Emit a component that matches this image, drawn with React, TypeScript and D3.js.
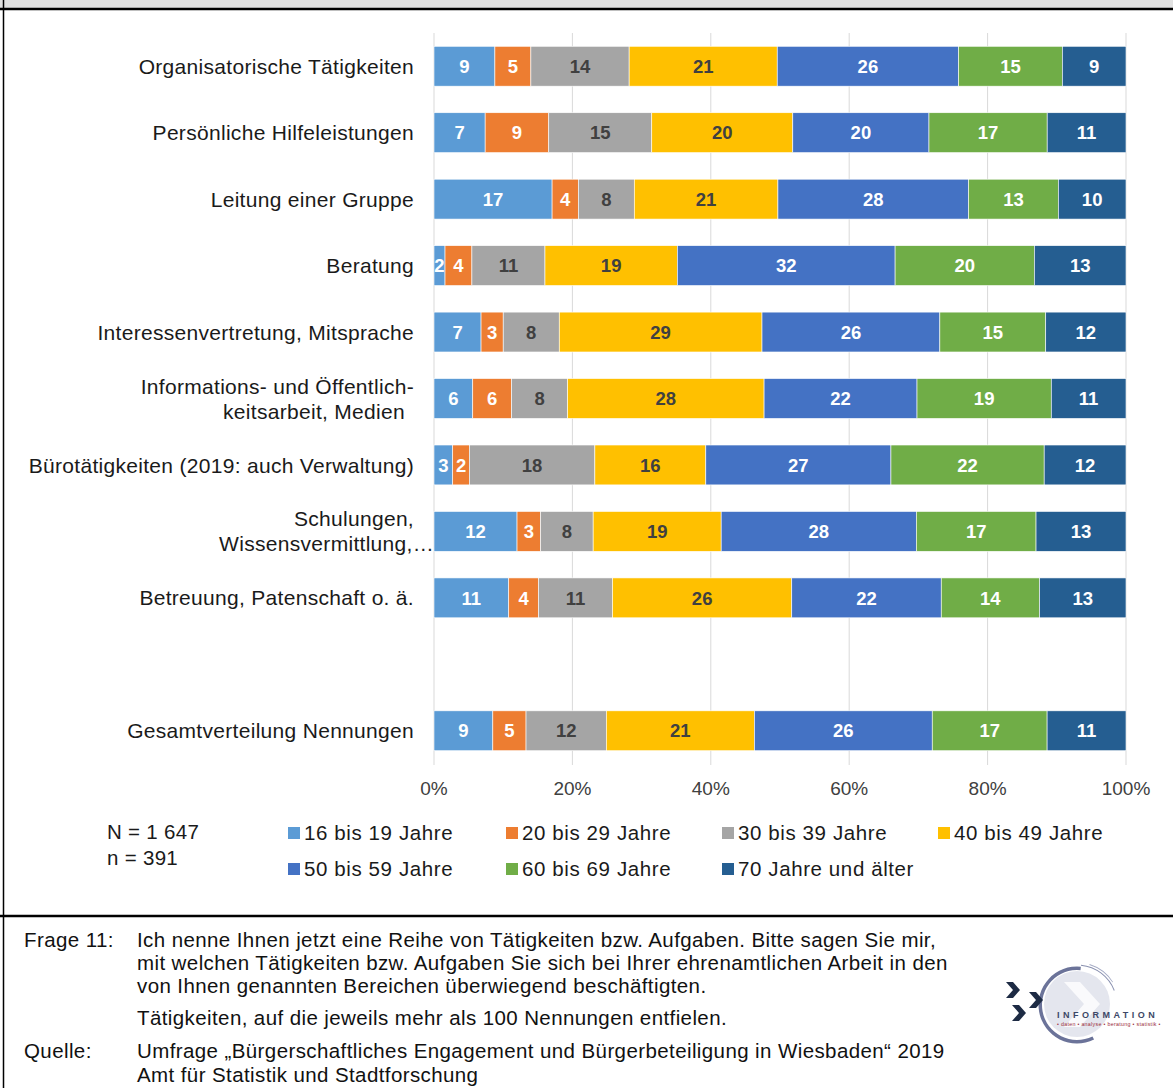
import React from "react";
import * as d3 from "d3";

const categories: string[][] = [
  ["Organisatorische Tätigkeiten"],
  ["Persönliche Hilfeleistungen"],
  ["Leitung einer Gruppe"],
  ["Beratung"],
  ["Interessenvertretung, Mitsprache"],
  ["Informations- und Öffentlich-", "keitsarbeit, Medien"],
  ["Bürotätigkeiten (2019: auch Verwaltung)"],
  ["Schulungen,", "Wissensvermittlung,…"],
  ["Betreuung, Patenschaft o. ä."],
  [""],
  ["Gesamtverteilung Nennungen"],
];

const seriesNames = [
  "16 bis 19 Jahre",
  "20 bis 29 Jahre",
  "30 bis 39 Jahre",
  "40 bis 49 Jahre",
  "50 bis 59 Jahre",
  "60 bis 69 Jahre",
  "70 Jahre und älter",
];

const seriesColors = ["#5B9BD5", "#ED7D31", "#A5A5A5", "#FFC000", "#4472C4", "#70AD47", "#255E91"];
const labelColors = ["#fff", "#fff", "#404040", "#404040", "#fff", "#fff", "#fff"];

// one row per category, values per age group (percent)
const values: (number[] | null)[] = [
  [8.8, 5.2, 14.2, 21.4, 26.2, 15.0, 9.2],
  [7.4, 9.2, 14.9, 20.4, 19.7, 17.1, 11.4],
  [17.1, 3.8, 8.1, 20.8, 27.6, 13.0, 9.8],
  [1.6, 3.9, 10.6, 19.2, 31.6, 20.2, 13.3],
  [6.8, 3.2, 8.1, 29.3, 25.7, 15.3, 11.6],
  [5.6, 5.6, 8.1, 28.4, 22.1, 19.4, 10.8],
  [2.7, 2.4, 18.1, 16.0, 26.7, 22.1, 11.8],
  [12.0, 3.4, 7.6, 18.5, 28.2, 17.3, 13.0],
  [10.8, 4.3, 10.7, 25.9, 21.6, 14.2, 12.5],
  null,
  [8.5, 4.8, 11.6, 21.4, 25.7, 16.6, 11.4],
];

const xTicks = [0, 0.2, 0.4, 0.6, 0.8, 1];

const sampleText = ["N = 1 647", "n = 391"];

const footerLines = [
  { label: "Frage 11:", text: "Ich nenne Ihnen jetzt eine Reihe von Tätigkeiten bzw. Aufgaben. Bitte sagen Sie mir," },
  { label: "", text: "mit welchen Tätigkeiten bzw. Aufgaben Sie sich bei Ihrer ehrenamtlichen Arbeit in den" },
  { label: "", text: "von Ihnen genannten Bereichen überwiegend beschäftigten." },
  { label: "", text: "Tätigkeiten, auf die jeweils mehr als 100 Nennungen entfielen." },
  { label: "Quelle:", text: "Umfrage „Bürgerschaftliches Engagement und Bürgerbeteiligung in Wiesbaden“ 2019" },
  { label: "", text: "Amt für Statistik und Stadtforschung" },
];
const footerY = [940, 963, 986, 1018, 1051, 1075];

const FONT = "'Liberation Sans', Arial, 'DejaVu Sans', sans-serif";

export default function App() {
  const W = 1173;
  const H = 1088;
  const x = d3.scaleLinear().domain([0, 1]).range([434, 1126]);
  const y = d3
    .scaleBand<number>()
    .domain(categories.map((_, i) => i))
    .range([33, 764])
    .paddingInner(0.4)
    .paddingOuter(0.2);

  const rows = values.map((v, i) => {
    if (!v) return { i, segs: [] as { x0: number; x1: number; v: number; k: number }[] };
    const total = d3.sum(v);
    let acc = 0;
    const segs = v.map((val, k) => {
      const s = { x0: acc / total, x1: (acc + val) / total, v: val, k };
      acc += val;
      return s;
    });
    return { i, segs };
  });

  const legendPos = [
    { x: 288, y: 833 },
    { x: 506, y: 833 },
    { x: 722, y: 833 },
    { x: 938, y: 833 },
    { x: 288, y: 869 },
    { x: 506, y: 869 },
    { x: 722, y: 869 },
  ];

  const catLineDx = (ci: number, li: number) => {
    if (ci === 5 && li === 1) return -9;
    if (ci === 7 && li === 1) return 20;
    return 0;
  };

  const arc = d3.arc();
  const chevron = (x0: number, y0: number) =>
    `M${x0},${y0} L${x0 + 7},${y0} L${x0 + 14},${y0 + 8} L${x0 + 7},${y0 + 16} L${x0},${y0 + 16} L${x0 + 7},${y0 + 8} Z`;

  return (
    <svg
      width={W}
      height={H}
      style={{ position: "absolute", left: 0, top: 0, display: "block", fontFamily: FONT }}
    >
      <rect x={0} y={0} width={W} height={H} fill="#fff" />
      <rect x={0} y={0} width={W} height={8} fill="#e1e1e1" />
      <line x1={0} x2={W} y1={9} y2={9} stroke="#000" strokeWidth={2.5} />
      <line x1={3.5} x2={3.5} y1={0} y2={H} stroke="#000" strokeWidth={1.5} />
      <line x1={0} x2={W} y1={916} y2={916} stroke="#000" strokeWidth={2.5} />

      {/* gridlines */}
      {xTicks.map((t) => (
        <line key={t} x1={x(t)} x2={x(t)} y1={33} y2={765} stroke="#d9d9d9" strokeWidth={1} />
      ))}

      {/* bars */}
      {rows.map((r) =>
        r.segs.map((s) => {
          const y0 = y(r.i)!;
          const bw = y.bandwidth();
          const cx = (x(s.x0) + x(s.x1)) / 2;
          return (
            <g key={r.i + "-" + s.k}>
              <rect
                x={x(s.x0)}
                y={y0}
                width={x(s.x1) - x(s.x0)}
                height={bw}
                fill={seriesColors[s.k]}
                stroke="#ffffff"
                strokeWidth={0.6}
              />
              <text
                x={cx}
                y={y0 + bw / 2}
                dy="0.36em"
                textAnchor="middle"
                fontSize={18.5}
                fontWeight="bold"
                fill={labelColors[s.k]}
              >
                {Math.round(s.v)}
              </text>
            </g>
          );
        })
      )}

      {/* category labels */}
      {categories.map((lines, ci) => {
        const cy = y(ci)! + y.bandwidth() / 2;
        const lh = 25;
        const start = cy - ((lines.length - 1) * lh) / 2;
        return lines.map((ln, li) => (
          <text
            key={ci + "-" + li}
            x={414 + catLineDx(ci, li)}
            y={start + li * lh}
            dy="0.36em"
            textAnchor="end"
            fontSize={21}
            letterSpacing={0.3}
            fill="#1a1a1a"
          >
            {ln}
          </text>
        ));
      })}

      {/* x axis labels */}
      {xTicks.map((t) => (
        <text key={t} x={x(t)} y={788} dy="0.36em" textAnchor="middle" fontSize={19} fill="#404040">
          {d3.format(".0%")(t)}
        </text>
      ))}

      {/* N text */}
      {sampleText.map((t, i) => (
        <text key={t} x={107} y={832 + i * 26} dy="0.36em" fontSize={20.5} letterSpacing={0.3} fill="#1a1a1a">
          {t}
        </text>
      ))}

      {/* legend */}
      {seriesNames.map((n, k) => (
        <g key={n}>
          <rect x={legendPos[k].x} y={legendPos[k].y - 6} width={12} height={12} fill={seriesColors[k]} />
          <text
            x={legendPos[k].x + 16}
            y={legendPos[k].y}
            dy="0.36em"
            fontSize={20.5}
            letterSpacing={0.6}
            fill="#1a1a1a"
          >
            {n}
          </text>
        </g>
      ))}

      {/* footer */}
      {footerLines.map((f, i) => (
        <g key={i}>
          {f.label && (
            <text x={24} y={footerY[i]} dy="0.36em" fontSize={20.5} letterSpacing={0.4} fill="#111">
              {f.label}
            </text>
          )}
          <text x={137} y={footerY[i]} dy="0.36em" fontSize={20.5} letterSpacing={0.4} fill="#111">
            {f.text}
          </text>
        </g>
      ))}

      {/* logo */}
      <g>
        <circle cx={1077} cy={1004} r={33} fill="#e4e6ee" />
        <path d="M1064,982 L1080,982 L1100,1004 L1080,1027 L1064,1027 L1084,1004 Z" fill="#fafafc" />
        <path
          d={arc({ innerRadius: 35, outerRadius: 38.5, startAngle: 0.1, endAngle: -3.6 }) || ""}
          transform="translate(1077,1005)"
          fill="#6b7399"
        />
        <path
          d={arc({ innerRadius: 39.5, outerRadius: 40.5, startAngle: 0.1, endAngle: 1.2 }) || ""}
          transform="translate(1077,1005)"
          fill="#8a91b0"
        />
        <path
          d={arc({ innerRadius: 42, outerRadius: 42.8, startAngle: 0.3, endAngle: 1.0 }) || ""}
          transform="translate(1077,1005)"
          fill="#a4aac4"
        />
        <path d={chevron(1006, 982)} fill="#1d2b44" />
        <path d={chevron(1029, 992)} fill="#1d2b44" />
        <path d={chevron(1012, 1005)} fill="#1d2b44" />
        <text x={1057} y={1018} fontSize={9} fontWeight="bold" letterSpacing={3.5} fill="#3c4766">
          INFORMATION
        </text>
        <text x={1057} y={1025.5} fontSize={5.3} fill="#9b2c3a" letterSpacing={0.3}>
          • daten • analyse • beratung • statistik •
        </text>
      </g>
    </svg>
  );
}
